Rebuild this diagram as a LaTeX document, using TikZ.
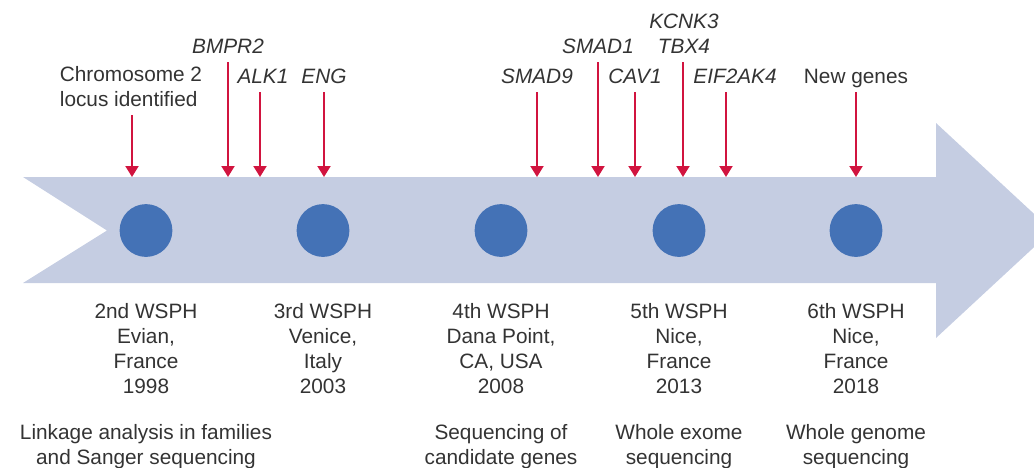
\documentclass[tikz,border=0pt]{standalone}
\usepackage{fontspec}
\setmainfont{Liberation Sans}
\usepackage{tikz}
\usetikzlibrary{positioning,arrows.meta}
\definecolor{barblue}{HTML}{C5CDE2}
\definecolor{dotblue}{HTML}{4472B6}
\definecolor{genered}{HTML}{D1143F}
\definecolor{inkgray}{HTML}{333333}

\begin{document}
\begin{tikzpicture}
	[
		x=0.5pt, y=-0.5pt,
		every node/.style = {text=inkgray, font=\fontsize{10.4}{12.5}\selectfont, inner sep=0pt},
		meeting/.style = {circle, fill=dotblue, minimum size=26.4pt},
		gene/.style = {anchor=south, align=center, inner ysep=4pt, font=\fontsize{10.4}{12.5}\selectfont\itshape},
		venue/.style = {align=center, below=22.8pt of #1},
		method/.style = {align=center, below=83.3pt of #1},
		hit/.style = {draw=genered, line width=1pt, -{Triangle[length=5.5pt,width=6.5pt]}},
	]
  \useasboundingbox (0,0) rectangle (1034,467);

  % the time line
  \fill[barblue] (23,177) -- (936,177) -- (936,123) -- (1052,230.5) -- (936,338)
    -- (936,283) -- (23,283) -- (107,230.5) -- cycle;

  \node[meeting] (c2) at (146,230.5) {};
  \node[meeting] (c3) at (323,230.5) {};
  \node[meeting] (c4) at (501,230.5) {};
  \node[meeting] (c5) at (679,230.5) {};
  \node[meeting] (c6) at (856,230.5) {};

  \node[venue=c2] (v2) {2nd WSPH\\Evian,\\France\\1998};
  \node[venue=c3] (v3) {3rd WSPH\\Venice,\\Italy\\2003};
  \node[venue=c4] (v4) {4th WSPH\\Dana Point,\\CA, USA\\2008};
  \node[venue=c5] (v5) {5th WSPH\\Nice,\\France\\2013};
  \node[venue=c6] (v6) {6th WSPH\\Nice,\\France\\2018};

  \node[method=c2] (m2) {Linkage analysis in families\\and Sanger sequencing};
  \node[method=c4] (m4) {Sequencing of\\candidate genes};
  \node[method=c5] (m5) {Whole exome\\sequencing};
  \node[method=c6] (m6) {Whole genome\\sequencing};

  % genes found
  \node[gene, align=left, font=\fontsize{10.4}{12.5}\selectfont] (chr) at (131,115) {Chromosome 2\\locus identified};
  \node[gene] (bmpr) at (228,62) {BMPR2};
  \node[gene] (alk) at (263,92) {ALK1};
  \node[gene] (eng) at (324,92) {ENG};
  \node[gene] (smadn) at (537,92) {SMAD9};
  \node[gene] (smado) at (598,62) {SMAD1};
  \node[gene] (cav) at (635,92) {CAV1};
  \node[gene] (kcnk) at (684,62) {KCNK3\\TBX4};
  \node[gene] (eif) at (735,92) {EIF2AK4};
  \node[gene, text depth=0pt, font=\fontsize{10.4}{12.5}\selectfont] (new) at (856,92) {New genes};

  \coordinate (tchr) at (132,177);
  \coordinate (tbmpr) at (228,177);
  \coordinate (talk) at (260,177);
  \coordinate (teng) at (324,177);
  \coordinate (tsmadn) at (537,177);
  \coordinate (tsmado) at (598,177);
  \coordinate (tcav) at (635,177);
  \coordinate (tkcnk) at (683,177);
  \coordinate (teif) at (726,177);
  \coordinate (tnew) at (856,177);

  \draw[hit] (chr.south -| tchr) -- (tchr);
  \draw[hit] (bmpr.south -| tbmpr) -- (tbmpr);
  \draw[hit] (alk.south -| talk) -- (talk);
  \draw[hit] (eng.south -| teng) -- (teng);
  \draw[hit] (smadn.south -| tsmadn) -- (tsmadn);
  \draw[hit] (smado.south -| tsmado) -- (tsmado);
  \draw[hit] (cav.south -| tcav) -- (tcav);
  \draw[hit] (kcnk.south -| tkcnk) -- (tkcnk);
  \draw[hit] (eif.south -| teif) -- (teif);
  \draw[hit] (new.south -| tnew) -- (tnew);

\end{tikzpicture}
\end{document}
